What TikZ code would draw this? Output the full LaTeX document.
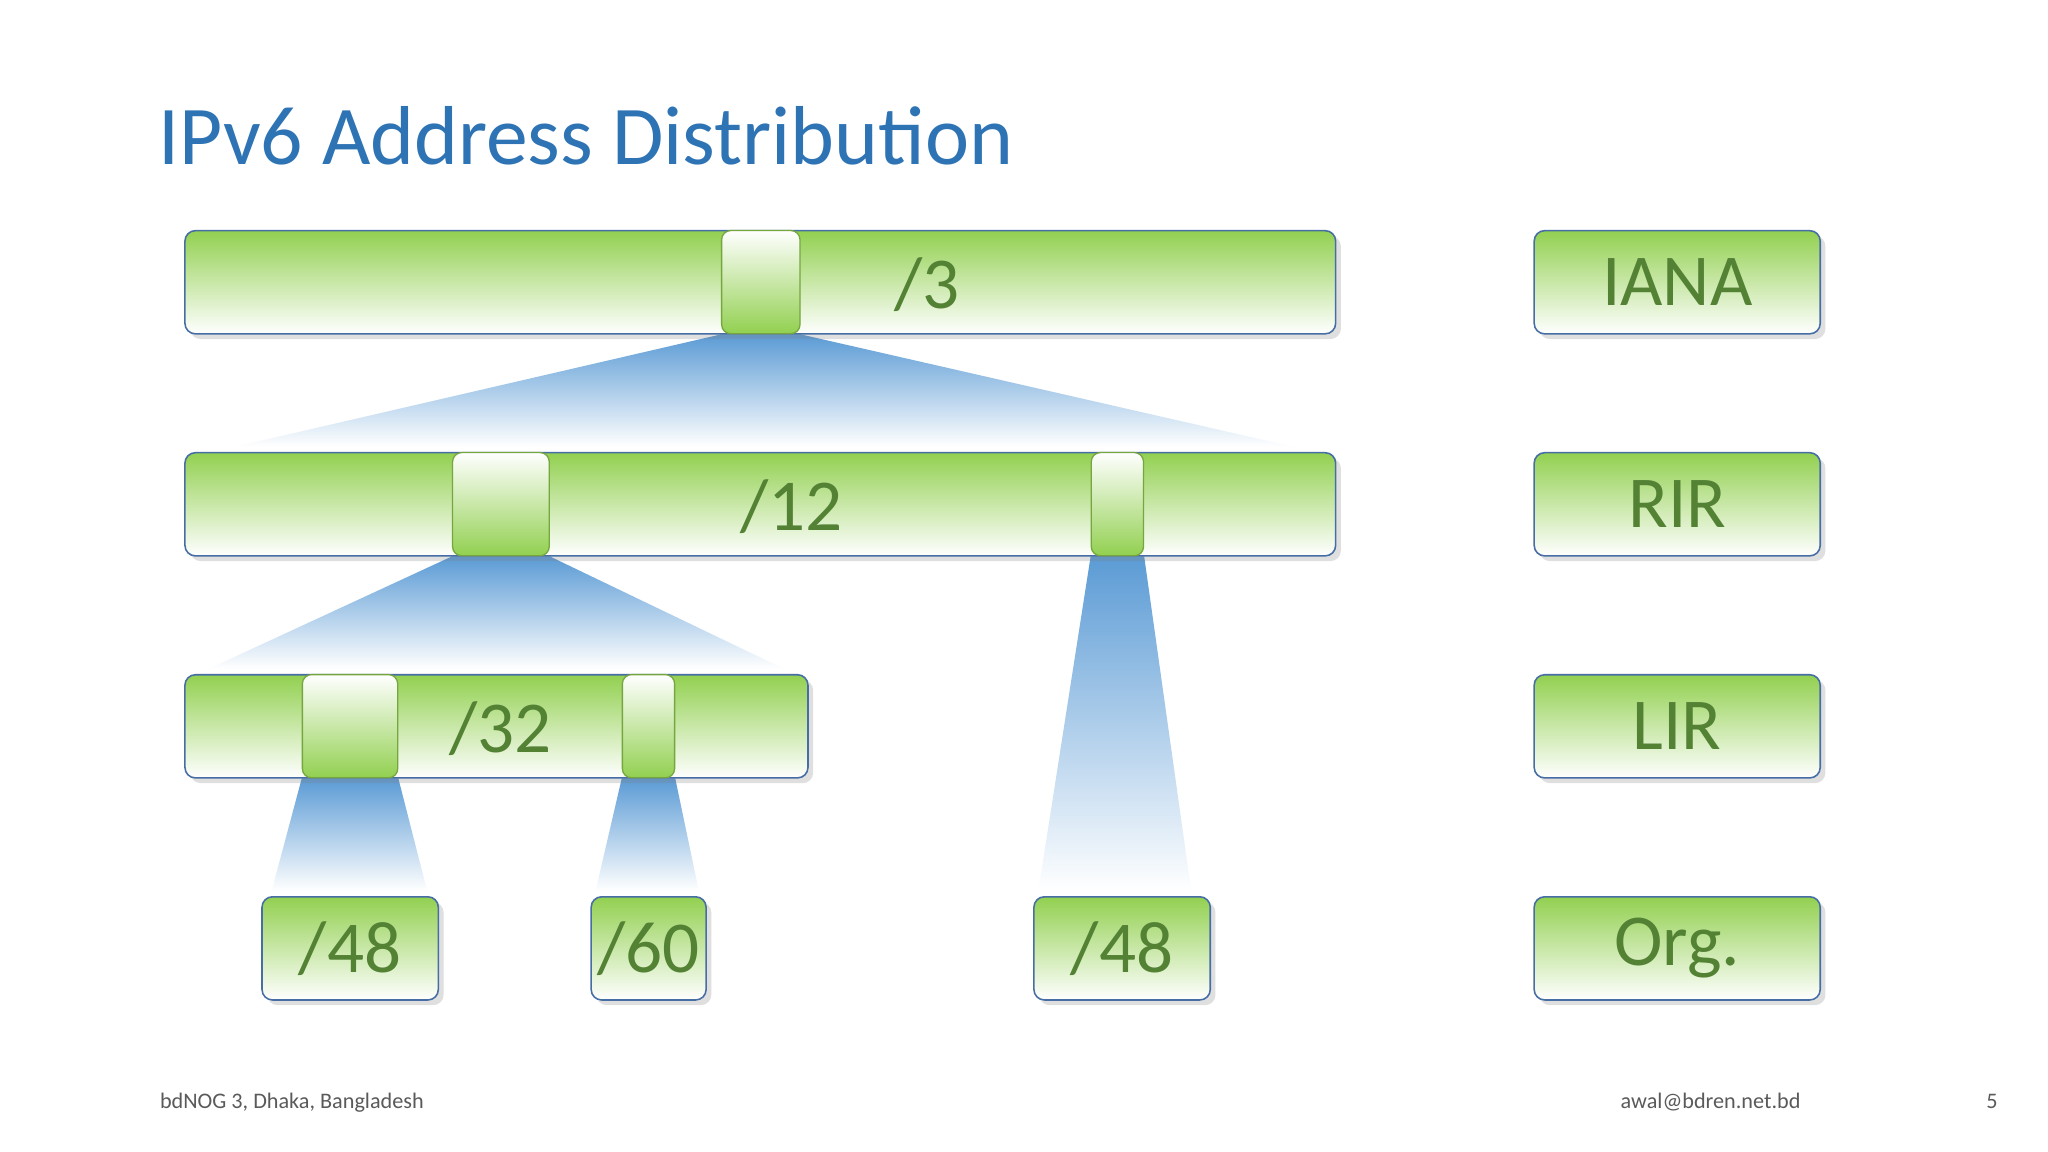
\documentclass[tikz,border=0pt]{standalone}
\usepackage{fontspec}
\setmainfont{Carlito}
\usetikzlibrary{shadows,backgrounds}
\definecolor{ttl}{RGB}{46,116,181}
\definecolor{grn}{RGB}{146,208,80}
\definecolor{dgrn}{RGB}{84,130,53}
\definecolor{bord}{RGB}{70,110,165}
\definecolor{fan}{RGB}{91,155,213}
\definecolor{foot}{RGB}{90,90,90}
\tikzset{
 bar/.style={draw=bord, line width=1.2pt, rounded corners=8pt, top color=grn, bottom color=white,
   drop shadow={opacity=0.25, shadow xshift=4pt, shadow yshift=-4pt}, inner sep=0pt, anchor=north west, minimum height=79pt},
 sel/.style={draw=grn!80!black, line width=1pt, rounded corners=7pt, top color=white, bottom color=grn, inner sep=0pt, anchor=north west, minimum height=79pt},
 lbl/.style={text=dgrn, font=\fontsize{56}{60}\selectfont},
 fanshade/.style={top color=fan, bottom color=white}
}
\begin{document}
\begin{tikzpicture}[x=1pt,y=-1pt]
\useasboundingbox (0,0) rectangle (1568,882);
\node[text=ttl, font=\fontsize{64}{70}\selectfont, anchor=base west] (title) at (118,126) {IPv6 Address Distribution};
\coordinate (f1a) at (180,342); \coordinate (f1b) at (990,342);
\coordinate (f2a) at (160,512); \coordinate (f2b) at (600,512);
\coordinate (f3a) at (795,682); \coordinate (f3b) at (912,682);
\coordinate (f4a) at (208,682); \coordinate (f4b) at (327,682);
\coordinate (f5a) at (456,682); \coordinate (f5b) at (535,682);
\node[bar, minimum width=881pt] (b1) at (141,176) {};
\node[bar, minimum width=881pt] (b2) at (141,346) {};
\node[bar, minimum width=477pt] (b3) at (141,516) {};
\node[sel, minimum width=60pt] (s1) at (552,176) {};
\node[sel, minimum width=74pt] (s2) at (346,346) {};
\node[sel, minimum width=40pt] (s3) at (835,346) {};
\node[sel, minimum width=73pt] (s4) at (231,516) {};
\node[sel, minimum width=40pt] (s5) at (476,516) {};
\begin{scope}[on background layer]
\fill[white] (0,0) rectangle (1568,882);
\shade[fanshade] (s1.south west) -- (s1.south east) -- (f1b) -- (f1a) -- cycle;
\shade[fanshade] (s2.south west) -- (s2.south east) -- (f2b) -- (f2a) -- cycle;
\shade[fanshade] (s3.south west) -- (s3.south east) -- (f3b) -- (f3a) -- cycle;
\shade[fanshade] (s4.south west) -- (s4.south east) -- (f4b) -- (f4a) -- cycle;
\shade[fanshade] (s5.south west) -- (s5.south east) -- (f5b) -- (f5a) -- cycle;
\end{scope}
\node[lbl] (l1) at (710,218) {/3};
\node[lbl] (l2) at (606,388) {/12};
\node[lbl] (l3) at (383,558) {/32};
\node[bar, minimum width=135pt] (o1) at (200,686) {};
\node[lbl] at (o1.center) {/48};
\node[bar, minimum width=88pt] (o2) at (452,686) {};
\node[lbl] at (o2.center) {/60};
\node[bar, minimum width=135pt] (o3) at (791,686) {};
\node[lbl] at (o3.center) {/48};
\node[bar, minimum width=219pt] (r1) at (1174,176) {};
\node[lbl] at (r1.center) {IANA};
\node[bar, minimum width=219pt] (r2) at (1174,346) {};
\node[lbl] at (r2.center) {RIR};
\node[bar, minimum width=219pt] (r3) at (1174,516) {};
\node[lbl] at (r3.center) {LIR};
\node[bar, minimum width=219pt] (r4) at (1174,686) {};
\node[lbl] at (r4.center) {Org.};
\node[text=foot, font=\fontsize{17}{20}\selectfont, anchor=base west] (ft1) at (119,849) {bdNOG 3, Dhaka, Bangladesh};
\node[text=foot, font=\fontsize{17}{20}\selectfont, anchor=base east] (ft2) at (1382,849) {awal@bdren.net.bd};
\node[text=foot, font=\fontsize{17}{20}\selectfont, anchor=base east] (ft3) at (1533,849) {5};
\end{tikzpicture}
\end{document}
